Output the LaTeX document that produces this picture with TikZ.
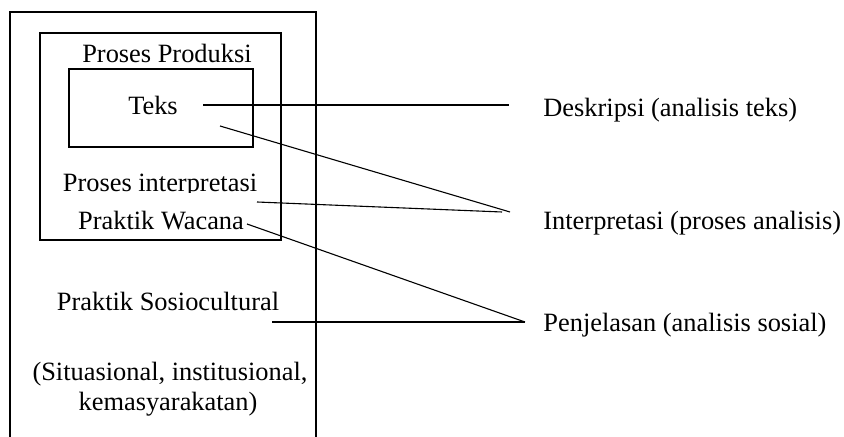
\documentclass[tikz,border=0pt]{standalone}
\usepackage{fontspec}
\setmainfont{Liberation Serif}
\begin{document}
\begin{tikzpicture}[x=0.5pt,y=-0.5pt,
  box/.style={line width=1.1pt},
  conn/.style={line width=0.55pt},
  lbl/.style={inner sep=0pt,anchor=base,font=\fontsize{13.2}{15}\selectfont},
  rlbl/.style={inner sep=0pt,anchor=base west,font=\fontsize{13.2}{15}\selectfont}]
\useasboundingbox[fill=white] (0,0) rectangle (844,437);
% outer box (bottom cut off)
\draw[box] (10,437) -- (10,12) -- (316,12) -- (316,437);
% inner box
\draw[box] (40,33) rectangle (281,240);
% text box
\draw[box] (69,69) rectangle (253,147);
% labels
\node[lbl] (pp) at (167,63) {Proses Produksi};
\node[lbl] (teks) at (153,115) {Teks};
\begin{scope}
\clip (30,150) rectangle (300,192.5);
\node[lbl] (pi) at (160,192) {Proses interpretasi};
\end{scope}
\node[lbl] (pw) at (161,230) {Praktik Wacana};
\node[lbl] (ps) at (168,311) {Praktik Sosiocultural};
\node[lbl] (sit) at (170,380) {(Situasional, institusional,};
\node[lbl] (kem) at (168,410) {kemasyarakatan)};
\node[rlbl] (desk) at (543,117) {Deskripsi (analisis teks)};
\node[rlbl] (interp) at (543,230) {Interpretasi (proses analisis)};
\node[rlbl] (penj) at (543,332) {Penjelasan (analisis sosial)};
% connector end points
\coordinate (a1) at (203,105);
\coordinate (b1) at (509,105);
\coordinate (a2) at (220,126);
\coordinate (b2) at (510,212);
\coordinate (a3) at (257,202);
\coordinate (b3) at (502,212);
\coordinate (a4) at (247,224);
\coordinate (b4) at (525,322);
\coordinate (a5) at (272,322);
% connectors
\draw[conn] (a1) -- (b1);
\draw[conn] (a2) -- (b2);
\draw[conn] (a3) -- (b3);
\draw[conn] (a4) -- (b4);
\draw[conn] (a5) -- (b4);
\end{tikzpicture}
\end{document}
